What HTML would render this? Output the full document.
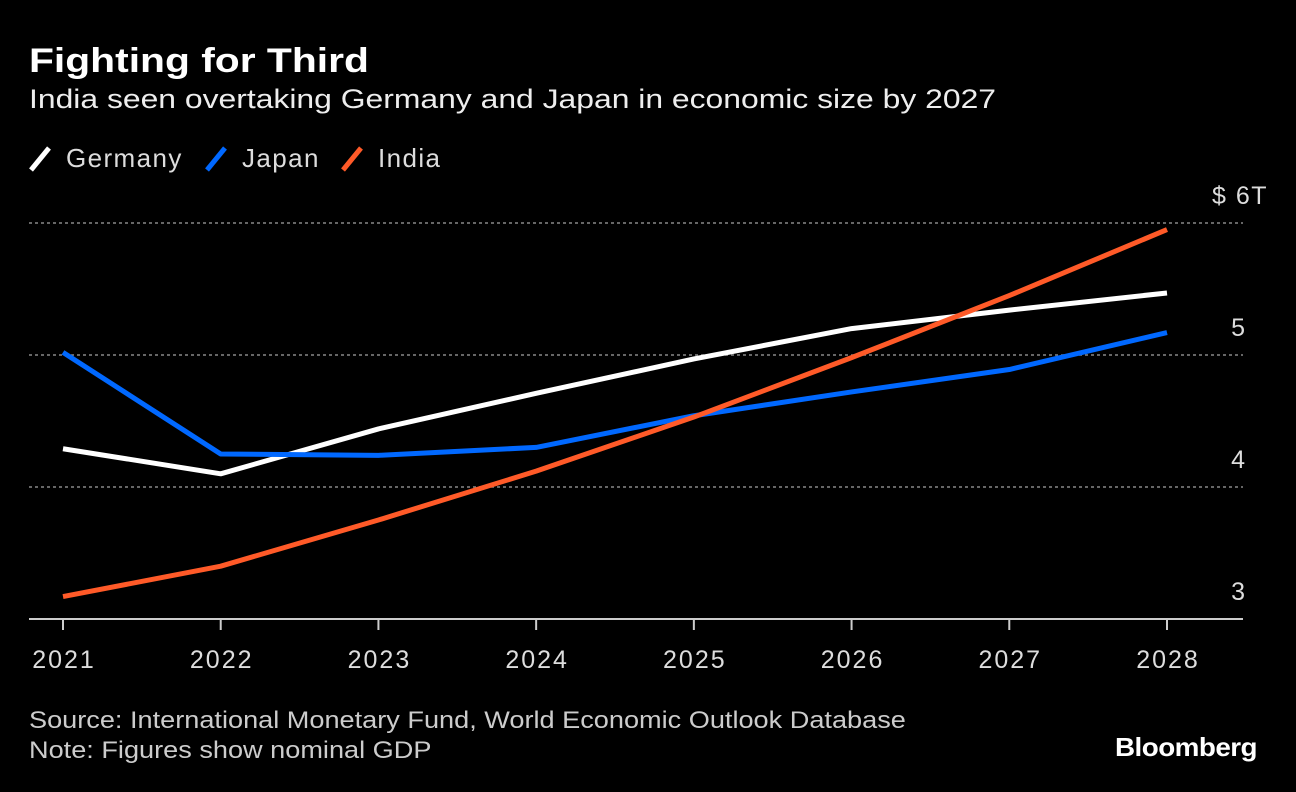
<!DOCTYPE html>
<html><head><meta charset="utf-8"><style>
body{margin:0;background:#000;width:1296px;height:792px;overflow:hidden;font-family:"Liberation Sans",sans-serif;color:#fff;position:relative}
.t{position:absolute;white-space:nowrap;transform-origin:0 0}
</style></head><body>
<div class="t" style="left:29px;top:42px;font-size:34px;font-weight:bold;transform:scaleX(1.2)">Fighting for Third</div>
<div class="t" style="left:29px;top:84px;font-size:27px;color:#eee;transform:scaleX(1.18)">India seen overtaking Germany and Japan in economic size by 2027</div>
<svg id="c" width="1296" height="792" style="position:absolute;left:0;top:0"></svg>
<div class="t" style="left:29px;top:707px;font-size:24px;color:#ccc;transform:scaleX(1.13)">Source: International Monetary Fund, World Economic Outlook Database</div>
<div class="t" style="left:29px;top:737px;font-size:24px;color:#ccc;transform:scaleX(1.13)">Note: Figures show nominal GDP</div>
<div class="t" style="left:1115px;top:732px;font-size:26px;font-weight:bold;letter-spacing:-0.5px;transform:scaleX(1.07)">Bloomberg</div>
<script>
const years=[2021,2022,2023,2024,2025,2026,2027,2028];
const germany=[4.29,4.10,4.44,4.71,4.97,5.20,5.34,5.47];
const japan=[5.02,4.25,4.24,4.30,4.54,4.72,4.89,5.17];
const india=[3.17,3.40,3.75,4.12,4.53,4.98,5.45,5.95];
const yTicks=[3,4,5,6];
const yTickLabels=["3","4","5","$ 6T"];
const seriesNames=["Germany","Japan","India"];
const seriesColors=["#ffffff","#0068ff","#ff5a28"];
const svg=document.getElementById('c');const NS="http://www.w3.org/2000/svg";
const x=i=>63+(1167-63)*i/(years.length-1);
const y=v=>619-(v-3)*132;
function mk(t,a,name){const e=document.createElementNS(NS,t);for(const k in a)e.setAttribute(k,a[k]);


svg.appendChild(e);return e;}
yTicks.forEach((v,i)=>{
 if(v>3) mk('line',{x1:29,x2:1243,y1:y(v),y2:y(v),stroke:'#888','stroke-width':1.5,'stroke-dasharray':'3,3'},'gridline-'+v);
 const last=i===yTicks.length-1;
 const t=mk('text',{x:last?1212:1245,y:y(v)-19,'text-anchor':last?'start':'end','font-size':25,fill:'#ddd','letter-spacing':last?'1.5':'0'},'y-tick-label-'+v);t.textContent=yTickLabels[i];
});
mk('line',{x1:29,x2:1243,y1:619,y2:619,stroke:'#ccc','stroke-width':2},'x-axis');
years.forEach((yr,i)=>{
 mk('line',{x1:x(i),x2:x(i),y1:619,y2:630,stroke:'#ccc','stroke-width':2},'x-tick-'+yr);
 const t=mk('text',{x:x(i)+1,y:668,'text-anchor':'middle','font-size':25,fill:'#ddd','letter-spacing':'2'},'x-tick-label-'+yr);t.textContent=yr;
});
[germany,japan,india].forEach((s,k)=>{
 mk('polyline',{points:s.map((v,i)=>x(i)+','+y(v)).join(' '),fill:'none',stroke:seriesColors[k],'stroke-width':5,'stroke-linejoin':'round'},'line-'+seriesNames[k].toLowerCase());
});
const lx=[31,207,343];
seriesNames.forEach((n,k)=>{
 mk('line',{x1:lx[k],y1:170,x2:lx[k]+18,y2:148,stroke:seriesColors[k],'stroke-width':5},'legend-swatch-'+n.toLowerCase());
 const t=mk('text',{x:lx[k]+35,y:167,'font-size':26,fill:'#ddd','letter-spacing':'1.4'},'legend-entry-'+n.toLowerCase());t.textContent=n;
});
</script>
</body></html>
